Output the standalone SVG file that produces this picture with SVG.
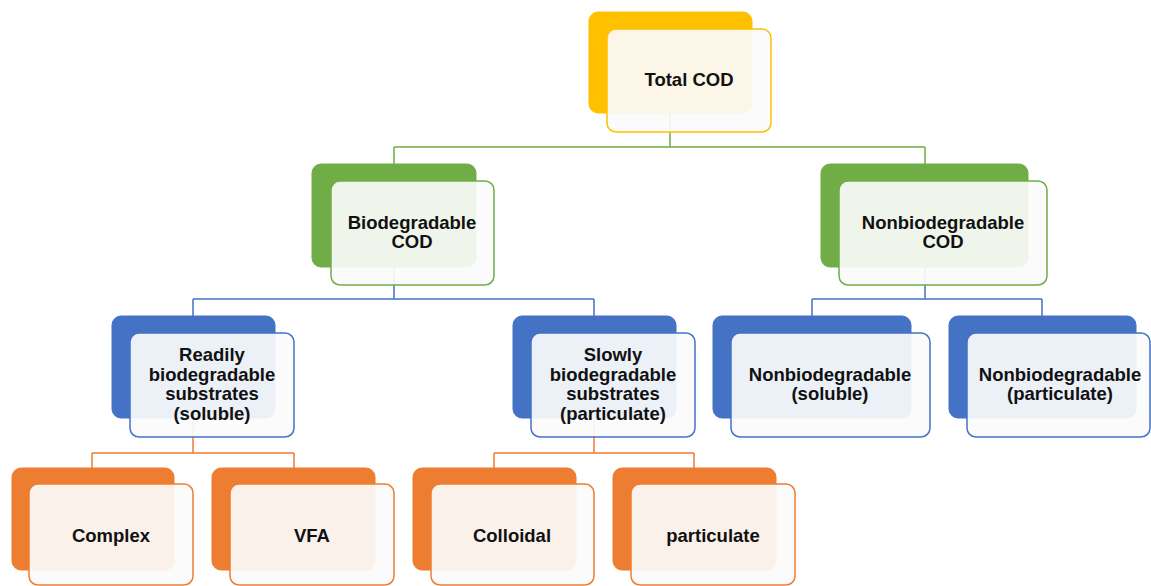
<svg xmlns="http://www.w3.org/2000/svg" width="1151" height="586" viewBox="0 0 1151 586">
  <style>
    .bk { stroke: none; }
    .fr { fill: #fbfbfb; fill-opacity: 0.92; stroke-width: 1.5; }
    .lbl { font-family: "Liberation Sans", Arial, sans-serif; font-weight: bold; font-size: 18.5px; fill: #111; text-anchor: middle; }
    .c { fill: none; stroke-width: 1.5; }
    .y { fill: #FFC000; stroke: #FFC000; }
    .g { fill: #70AD47; stroke: #70AD47; }
    .b { fill: #4472C4; stroke: #4472C4; }
    .o { fill: #ED7D31; stroke: #ED7D31; }
  </style>
  <rect width="1151" height="586" fill="#ffffff"/>

  <!-- connectors -->
  <g id="connectors">
    <path class="c" stroke="#70AD47" d="M670,113 V147 M394,147 H925 M394,147 V164 M925,147 V164"/>
    <path class="c" stroke="#4472C4" d="M394,267 V299 M193,299 H594 M193,299 V316 M594,299 V316"/>
    <path class="c" stroke="#4472C4" d="M925,267 V299 M812,299 H1042 M812,299 V316 M1042,299 V316"/>
    <path class="c" stroke="#ED7D31" d="M193,418 V453 M92,453 H294 M92,453 V468 M294,453 V468"/>
    <path class="c" stroke="#ED7D31" d="M594,418 V453 M494,453 H694 M494,453 V468 M694,453 V468"/>
  </g>

  <!-- level 1 -->
  <g id="total-cod">
    <rect class="bk y" x="589" y="12" width="163" height="101" rx="9"/>
    <rect class="fr" stroke="#FFC000" x="607" y="29" width="164" height="103" rx="9"/>
    <text class="lbl" x="689" y="86">Total COD</text>
  </g>

  <!-- level 2 -->
  <g id="biodegradable-cod">
    <rect class="bk g" x="312" y="164" width="164" height="103" rx="9"/>
    <rect class="fr" stroke="#70AD47" x="331" y="181" width="163" height="104" rx="9"/>
    <text class="lbl" x="412" y="229">Biodegradable</text>
    <text class="lbl" x="412" y="248">COD</text>
  </g>
  <g id="nonbiodegradable-cod">
    <rect class="bk g" x="821" y="164" width="207" height="103" rx="9"/>
    <rect class="fr" stroke="#70AD47" x="839" y="181" width="208" height="104" rx="9"/>
    <text class="lbl" x="943" y="229">Nonbiodegradable</text>
    <text class="lbl" x="943" y="248">COD</text>
  </g>

  <!-- level 3 -->
  <g id="readily-biodegradable">
    <rect class="bk b" x="112" y="316" width="163" height="102" rx="9"/>
    <rect class="fr" stroke="#4472C4" x="130" y="333" width="164" height="104" rx="9"/>
    <text class="lbl" x="212" y="361">Readily</text>
    <text class="lbl" x="212" y="381">biodegradable</text>
    <text class="lbl" x="212" y="400">substrates</text>
    <text class="lbl" x="212" y="420">(soluble)</text>
  </g>
  <g id="slowly-biodegradable">
    <rect class="bk b" x="513" y="316" width="163" height="102" rx="9"/>
    <rect class="fr" stroke="#4472C4" x="531" y="333" width="164" height="104" rx="9"/>
    <text class="lbl" x="613" y="361">Slowly</text>
    <text class="lbl" x="613" y="381">biodegradable</text>
    <text class="lbl" x="613" y="400">substrates</text>
    <text class="lbl" x="613" y="420">(particulate)</text>
  </g>
  <g id="nonbiodegradable-soluble">
    <rect class="bk b" x="713" y="316" width="198" height="102" rx="9"/>
    <rect class="fr" stroke="#4472C4" x="731" y="333" width="199" height="104" rx="9"/>
    <text class="lbl" x="830" y="381">Nonbiodegradable</text>
    <text class="lbl" x="830" y="400">(soluble)</text>
  </g>
  <g id="nonbiodegradable-particulate">
    <rect class="bk b" x="949" y="316" width="187" height="102" rx="9"/>
    <rect class="fr" stroke="#4472C4" x="967" y="333" width="183" height="104" rx="9"/>
    <text class="lbl" x="1060" y="381">Nonbiodegradable</text>
    <text class="lbl" x="1060" y="400">(particulate)</text>
  </g>

  <!-- level 4 -->
  <g id="complex">
    <rect class="bk o" x="12" y="468" width="162" height="102" rx="9"/>
    <rect class="fr" stroke="#ED7D31" x="29" y="484" width="164" height="101" rx="9"/>
    <text class="lbl" x="111" y="542">Complex</text>
  </g>
  <g id="vfa">
    <rect class="bk o" x="212" y="468" width="163" height="102" rx="9"/>
    <rect class="fr" stroke="#ED7D31" x="230" y="484" width="164" height="101" rx="9"/>
    <text class="lbl" x="312" y="542">VFA</text>
  </g>
  <g id="colloidal">
    <rect class="bk o" x="413" y="468" width="163" height="102" rx="9"/>
    <rect class="fr" stroke="#ED7D31" x="431" y="484" width="163" height="101" rx="9"/>
    <text class="lbl" x="512" y="542">Colloidal</text>
  </g>
  <g id="particulate">
    <rect class="bk o" x="613" y="468" width="163" height="102" rx="9"/>
    <rect class="fr" stroke="#ED7D31" x="631" y="484" width="164" height="101" rx="9"/>
    <text class="lbl" x="713" y="542">particulate</text>
  </g>
</svg>
